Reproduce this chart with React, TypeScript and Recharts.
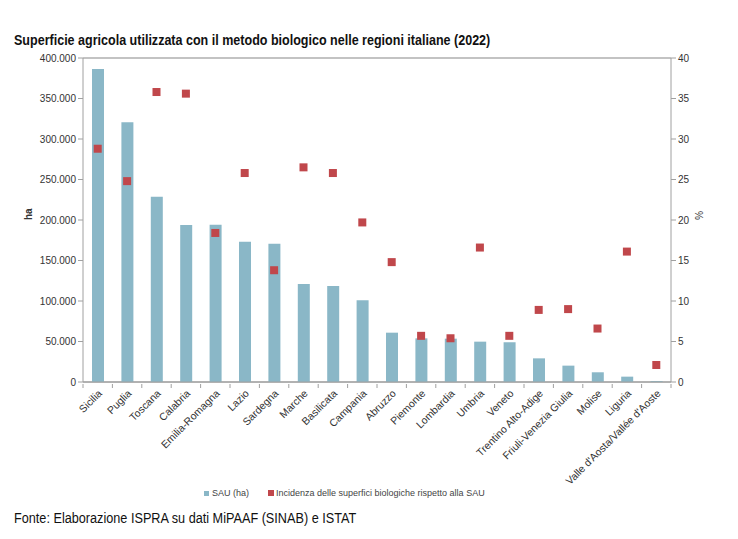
import {
  Bar,
  CartesianGrid,
  ComposedChart,
  Legend,
  Scatter,
  XAxis,
  YAxis,
} from 'recharts'

const regions = [
  'Sicilia',
  'Puglia',
  'Toscana',
  'Calabria',
  'Emilia-Romagna',
  'Lazio',
  'Sardegna',
  'Marche',
  'Basilicata',
  'Campania',
  'Abruzzo',
  'Piemonte',
  'Lombardia',
  'Umbria',
  'Veneto',
  'Trentino Alto-Adige',
  'Friuli-Venezia Giulia',
  'Molise',
  'Liguria',
  "Valle d'Aosta/Vallée d'Aoste",
]

// superficie biologica in ettari
const sauHa = [
  386500, 320600, 228800, 193800, 194000, 173200, 170800, 121000, 118500, 100800,
  60900, 53900, 53500, 49800, 49000, 29200, 20200, 12000, 6600, 1200,
]

// incidenza % sulla SAU regionale
const incidenza = [
  28.8, 24.8, 35.8, 35.6, 18.4, 25.8, 13.8, 26.5, 25.8, 19.7,
  14.8, 5.7, 5.4, 16.6, 5.7, 8.9, 9.0, 6.6, 16.1, 2.1,
]

const leftTicks = [0, 50000, 100000, 150000, 200000, 250000, 300000, 350000, 400000]
const rightTicks = [0, 5, 10, 15, 20, 25, 30, 35, 40]

const data = regions.map((name, i) => ({ name, sau: sauHa[i], pct: incidenza[i] }))

const FONT = "'Liberation Sans', Arial, sans-serif"
const BAR_COLOR = '#8ab7c7'
const DOT_COLOR = '#c0474b'
const GRID = '#878787'
const AXIS = '#a0a0a0'

const formatThousands = (v: number) => String(v).replace(/\B(?=(\d{3})+(?!\d))/g, '.')

function RegionTick(props: any) {
  const { x, y, payload, index, visibleTicksCount } = props
  const half = payload.offset ?? 15.5
  const isLast = index === visibleTicksCount - 1
  return (
    <g>
      <line x1={x - half} x2={x - half} y1={y - 6} y2={y - 2} stroke={AXIS} />
      {isLast && <line x1={x + half} x2={x + half} y1={y - 6} y2={y - 2} stroke={AXIS} />}
      <text
        transform={`translate(${x + 5}, ${y + 4}) rotate(-45)`}
        textAnchor="end"
        fontSize={10.5}
        fill="#333"
        fontFamily={FONT}
      >
        {payload.value}
      </text>
    </g>
  )
}

function Square(props: any) {
  const { cx, cy } = props
  if (cx == null || cy == null) return null
  return <rect x={cx - 4} y={cy - 4} width={8} height={8} fill={DOT_COLOR} />
}

function LegendContent() {
  return (
    <div style={{ display: 'flex', fontFamily: FONT, fontSize: 9, color: '#444', alignItems: 'center' }}>
      <span style={{ width: 5, height: 5, background: BAR_COLOR, display: 'inline-block', marginRight: 3 }} />
      <span style={{ marginRight: 19 }}>SAU (ha)</span>
      <span style={{ width: 6, height: 6, background: DOT_COLOR, display: 'inline-block', marginRight: 2 }} />
      <span>Incidenza delle superfici biologiche rispetto alla SAU</span>
    </div>
  )
}

// Arial Narrow look: regular sans squeezed horizontally
const narrow = {
  position: 'absolute' as const,
  left: 14,
  fontFamily: FONT,
  fontSize: 14,
  color: '#111',
  whiteSpace: 'nowrap' as const,
  transformOrigin: 'left top',
}

export default function App() {
  return (
    <div style={{ position: 'absolute', left: 0, top: 0, width: 738, height: 539, background: '#fff' }}>
      <div style={{ ...narrow, top: 32, fontWeight: 'bold', transform: 'scaleX(0.895)' }}>
        Superficie agricola utilizzata con il metodo biologico nelle regioni italiane (2022)
      </div>
      <ComposedChart
        width={738}
        height={539}
        data={data}
        margin={{ top: 58, right: 27, bottom: 47, left: 0 }}
        barCategoryGap={0}
      >
        <CartesianGrid horizontal vertical={false} stroke={GRID} />
        <XAxis
          dataKey="name"
          interval={0}
          height={100}
          tickLine={false}
          axisLine={{ stroke: AXIS }}
          tick={<RegionTick />}
        />
        <YAxis
          yAxisId="left"
          width={83}
          domain={[0, 400000]}
          ticks={leftTicks}
          tickFormatter={formatThousands}
          axisLine={{ stroke: AXIS }}
          tickLine={{ stroke: AXIS }}
          tickSize={5}
          tick={{ fontSize: 10, fill: '#333', fontFamily: FONT }}
          label={{ value: 'ha', angle: -90, position: 'insideLeft', offset: 28, fontSize: 10, fontWeight: 'bold', fill: '#333', fontFamily: FONT }}
        />
        <YAxis
          yAxisId="right"
          orientation="right"
          width={40}
          domain={[0, 40]}
          ticks={rightTicks}
          axisLine={{ stroke: AXIS }}
          tickLine={{ stroke: AXIS }}
          tickSize={5}
          tick={{ fontSize: 10, fill: '#333', fontFamily: FONT }}
          label={{ value: '%', angle: 90, position: 'insideRight', offset: 12, fontSize: 10, fill: '#333', fontFamily: FONT }}
        />
        <Bar yAxisId="left" dataKey="sau" name="SAU (ha)" fill={BAR_COLOR} barSize={12} isAnimationActive={false} />
        <Scatter
          yAxisId="right"
          dataKey="pct"
          name="Incidenza delle superfici biologiche rispetto alla SAU"
          fill={DOT_COLOR}
          shape={<Square />}
          isAnimationActive={false}
        />
        <Legend content={<LegendContent />} wrapperStyle={{ left: 204, top: 488, width: 'auto' }} />
      </ComposedChart>
      <div style={{ ...narrow, top: 510, transform: 'scaleX(0.905)' }}>
        Fonte: Elaborazione ISPRA su dati MiPAAF (SINAB) e ISTAT
      </div>
    </div>
  )
}
